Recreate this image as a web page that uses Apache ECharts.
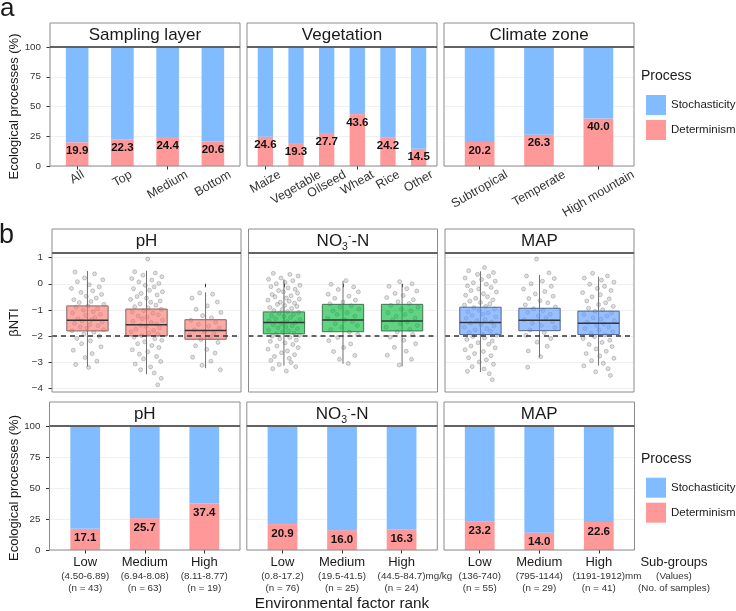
<!DOCTYPE html>
<html>
<head>
<meta charset="utf-8">
<script src="https://cdn.jsdelivr.net/npm/echarts@6/dist/echarts.min.js"></script>
<style>
    html, body {margin: 0; padding: 0; background: #fff;}
    #main {width: 736px; height: 611px;}
</style>
</head>
<body>
<div id="main"></div>
<script>
var FONT = '"Liberation Sans", Arial, sans-serif';
var STO_COLOR = '#80bcff';
var DET_COLOR = '#ff9999';

// ---------- data: panel a ----------
var samplingCats = ['All', 'Top', 'Medium', 'Bottom'];
var samplingDet = [19.9, 22.3, 24.4, 20.6];
var samplingSto = [80.1, 77.7, 75.6, 79.4];

var vegCats = ['Maize', 'Vegetable', 'Oilseed', 'Wheat', 'Rice', 'Other'];
var vegDet = [24.6, 19.3, 27.7, 43.6, 24.2, 14.5];
var vegSto = [75.4, 80.7, 72.3, 56.4, 75.8, 85.5];

var climateCats = ['Subtropical', 'Temperate', 'High mountain'];
var climateDet = [20.2, 26.3, 40.0];
var climateSto = [79.8, 73.7, 60.0];

// ---------- data: panel b ----------
var rankNames = ['Low', 'Medium', 'High'];

var phRanges = ['4.50-6.89', '6.94-8.08', '8.11-8.77'];
var phN = [43, 63, 19];
var phDet = [17.1, 25.7, 37.4];
var phSto = [82.9, 74.3, 62.6];

var no3Ranges = ['0.8-17.2', '19.5-41.5', '44.5-84.7'];
var no3N = [76, 25, 24];
var no3Det = [20.9, 16.0, 16.3];
var no3Sto = [79.1, 84.0, 83.7];

var mapRanges = ['136-740', '795-1144', '1191-1912'];
var mapN = [55, 29, 41];
var mapDet = [23.2, 14.0, 22.6];
var mapSto = [76.8, 86.0, 77.4];

// boxplot stats: [min, q1, median, q3, max]
var phBox = [[-3.18, -1.81, -1.40, -0.85, 0.49], [-3.47, -2.00, -1.57, -0.97, 0.50], [-3.24, -2.13, -1.79, -1.38, -0.33]];
var no3Box = [[-3.14, -1.92, -1.49, -1.08, 0.17], [-3.07, -1.84, -1.39, -0.79, 0.11], [-3.17, -1.81, -1.43, -0.79, -0.01]];
var mapBox = [[-3.39, -1.95, -1.49, -0.90, 0.48], [-2.82, -1.80, -1.40, -0.94, 0.34], [-3.14, -1.95, -1.52, -1.05, 0.27]];
var bntiThreshold = -2;

// jittered points: [offset from rank centre, betaNTI]
var phLowPts = [[-0.21,0.45],[0.12,0.38],[-0.05,0.22],[0.26,0.15],[-0.17,0.08],[0.03,-0.04],[0.2,-0.12],[-0.27,-0.18],[0.09,-0.27],[-0.11,-0.33],[0.24,-0.41],[-0.02,-0.48],[0.15,-0.55],[-0.23,-0.61],[0.06,-0.68],[-0.14,-0.72],[0.28,-0.79],[0.01,-0.85],[-0.19,-0.9],[0.17,-0.96],[-0.07,-1.01],[0.1,-1.07],[-0.25,-1.12],[0.22,-1.18],[-0.03,-1.22],[0.13,-1.29],[-0.16,-1.34],[0.07,-1.38],[-0.09,-1.43],[0.25,-1.47],[-0.22,-1.52],[0.04,-1.57],[0.18,-1.61],[-0.12,-1.66],[-0.01,-1.71],[0.27,-1.76],[-0.26,-1.8],[0.11,-1.86],[-0.06,-1.93],[0.2,-2.01],[-0.18,-2.1],[0.05,-2.19],[-0.1,-2.3],[0.23,-2.42],[-0.24,-2.55],[0.08,-2.68],[-0.04,-2.83],[0.16,-2.97],[-0.2,-3.1],[0.02,-3.21]];
var phMedPts = [[0.02,0.95],[-0.2,0.46],[0.15,0.41],[-0.06,0.33],[0.26,0.27],[-0.25,0.2],[0.09,0.14],[-0.13,0.07],[0.21,0.01],[-0.02,-0.06],[0.13,-0.12],[-0.22,-0.19],[0.05,-0.25],[0.27,-0.31],[-0.09,-0.37],[0.18,-0.43],[-0.16,-0.49],[0.0,-0.55],[-0.27,-0.6],[0.23,-0.66],[0.07,-0.71],[-0.11,-0.77],[0.16,-0.82],[-0.2,-0.88],[0.03,-0.93],[0.25,-0.98],[-0.05,-1.03],[-0.24,-1.08],[0.11,-1.13],[0.2,-1.19],[-0.14,-1.24],[0.01,-1.29],[-0.07,-1.34],[0.27,-1.39],[-0.23,-1.44],[0.08,-1.49],[0.17,-1.54],[-0.1,-1.59],[-0.01,-1.64],[0.22,-1.69],[-0.18,-1.74],[0.12,-1.79],[-0.26,-1.84],[0.04,-1.89],[0.19,-1.94],[-0.08,-1.99],[-0.21,-2.05],[0.14,-2.11],[0.26,-2.17],[-0.03,-2.23],[-0.15,-2.3],[0.09,-2.37],[0.21,-2.45],[-0.24,-2.53],[0.02,-2.61],[-0.12,-2.7],[0.17,-2.79],[-0.05,-2.88],[0.24,-2.98],[-0.19,-3.08],[0.07,-3.19],[-0.1,-3.3],[0.13,-3.42],[0.25,-3.63],[0.19,-3.88]];
var phHighPts = [[-0.1,-0.35],[0.12,-0.4],[-0.23,-0.55],[0.2,-0.7],[0.03,-0.85],[-0.16,-0.98],[0.26,-1.1],[-0.05,-1.22],[0.1,-1.31],[-0.25,-1.4],[0.17,-1.48],[-0.12,-1.56],[0.05,-1.63],[0.23,-1.7],[-0.19,-1.77],[-0.02,-1.84],[0.14,-1.91],[-0.27,-1.98],[0.08,-2.05],[-0.08,-2.14],[0.21,-2.25],[-0.17,-2.38],[0.02,-2.52],[0.16,-2.66],[-0.22,-2.82],[0.09,-2.97],[-0.06,-3.13],[0.25,-3.3]];
var no3LowPts = [[-0.18,0.4],[0.1,0.36],[0.24,0.3],[-0.05,0.22],[-0.26,0.17],[0.15,0.12],[0.02,0.05],[-0.13,0.0],[0.27,-0.06],[-0.22,-0.11],[0.07,-0.16],[0.19,-0.21],[-0.09,-0.26],[-0.01,-0.31],[0.23,-0.36],[-0.2,-0.41],[0.12,-0.46],[-0.15,-0.5],[0.04,-0.55],[0.26,-0.59],[-0.27,-0.63],[0.09,-0.67],[-0.06,-0.71],[0.18,-0.75],[-0.11,-0.79],[0.01,-0.83],[0.22,-0.87],[-0.24,-0.91],[0.13,-0.95],[-0.03,-0.99],[-0.17,-1.03],[0.06,-1.07],[0.25,-1.1],[-0.08,-1.14],[0.16,-1.18],[-0.21,-1.22],[0.0,-1.26],[0.11,-1.3],[-0.14,-1.34],[0.27,-1.37],[-0.25,-1.41],[0.05,-1.45],[0.19,-1.49],[-0.04,-1.53],[-0.18,-1.57],[0.14,-1.61],[0.03,-1.65],[-0.1,-1.69],[0.23,-1.73],[-0.26,-1.77],[0.08,-1.81],[-0.02,-1.85],[0.17,-1.89],[-0.13,-1.93],[0.26,-1.97],[-0.2,-2.01],[0.1,-2.06],[-0.07,-2.11],[0.21,-2.16],[-0.23,-2.21],[0.02,-2.27],[0.15,-2.33],[-0.12,-2.39],[0.24,-2.45],[-0.27,-2.51],[0.06,-2.58],[-0.04,-2.65],[0.18,-2.72],[-0.16,-2.79],[0.09,-2.86],[-0.22,-2.94],[0.12,-3.02],[-0.08,-3.1],[0.2,-3.18],[-0.19,-3.26],[0.04,-3.35]];
var no3MedPts = [[0.05,0.12],[-0.2,-0.02],[0.18,-0.12],[-0.08,-0.22],[0.26,-0.31],[-0.25,-0.4],[0.1,-0.48],[-0.14,-0.56],[0.21,-0.63],[0.0,-0.7],[-0.22,-0.77],[0.14,-0.84],[-0.05,-0.9],[0.27,-0.97],[-0.17,-1.04],[0.07,-1.11],[-0.1,-1.18],[0.2,-1.25],[-0.26,-1.32],[0.03,-1.39],[0.16,-1.46],[-0.13,-1.53],[0.24,-1.6],[-0.02,-1.68],[-0.21,-1.76],[0.11,-1.85],[0.25,-1.95],[-0.09,-2.06],[-0.24,-2.18],[0.13,-2.31],[0.01,-2.45],[-0.16,-2.6],[0.2,-2.75],[-0.06,-2.9],[0.09,-3.06]];
var no3HighPts = [[-0.04,0.08],[0.17,0.0],[-0.22,-0.1],[0.08,-0.19],[0.25,-0.28],[-0.12,-0.37],[0.02,-0.45],[-0.26,-0.53],[0.19,-0.61],[-0.07,-0.69],[0.12,-0.76],[-0.19,-0.83],[0.27,-0.9],[-0.01,-0.97],[0.15,-1.04],[-0.24,-1.11],[0.05,-1.18],[-0.1,-1.25],[0.22,-1.32],[-0.16,-1.39],[0.09,-1.46],[-0.03,-1.53],[0.26,-1.6],[-0.27,-1.67],[0.13,-1.75],[-0.08,-1.84],[0.18,-1.94],[-0.2,-2.05],[0.03,-2.17],[0.23,-2.3],[-0.13,-2.44],[0.07,-2.59],[-0.25,-2.74],[0.16,-2.9],[-0.05,-3.12]];
var mapLowPts = [[0.07,0.62],[-0.2,0.5],[0.22,0.43],[-0.05,0.36],[0.14,0.29],[-0.26,0.22],[0.02,0.16],[0.25,0.1],[-0.12,0.04],[0.1,-0.02],[-0.22,-0.08],[0.18,-0.14],[-0.03,-0.2],[-0.16,-0.26],[0.27,-0.32],[0.05,-0.38],[-0.25,-0.44],[0.12,-0.5],[-0.08,-0.56],[0.21,-0.62],[-0.18,-0.67],[0.0,-0.72],[0.16,-0.77],[-0.27,-0.82],[0.09,-0.87],[-0.11,-0.92],[0.24,-0.97],[-0.02,-1.02],[-0.21,-1.07],[0.13,-1.12],[0.04,-1.17],[-0.14,-1.22],[0.26,-1.27],[-0.24,-1.32],[0.08,-1.37],[-0.06,-1.42],[0.19,-1.47],[-0.17,-1.52],[0.01,-1.57],[0.23,-1.62],[-0.27,-1.67],[0.11,-1.72],[-0.09,-1.77],[0.17,-1.82],[-0.19,-1.87],[0.03,-1.92],[0.27,-1.97],[-0.13,-2.02],[0.07,-2.08],[-0.23,-2.14],[0.2,-2.2],[-0.04,-2.26],[0.14,-2.32],[-0.16,-2.39],[0.25,-2.46],[-0.26,-2.53],[0.05,-2.6],[-0.1,-2.68],[0.18,-2.76],[-0.2,-2.84],[0.1,-2.92],[-0.02,-3.0],[0.22,-3.09],[-0.14,-3.18],[0.06,-3.27],[-0.22,-3.36],[0.15,-3.45],[0.2,-3.68]];
var mapMedPts = [[-0.05,0.95],[0.16,0.42],[-0.22,0.3],[0.25,0.2],[0.05,0.1],[-0.14,0.0],[0.2,-0.1],[-0.27,-0.2],[0.09,-0.3],[-0.07,-0.39],[0.23,-0.48],[-0.18,-0.57],[0.01,-0.65],[0.14,-0.73],[-0.24,-0.81],[0.27,-0.89],[-0.1,-0.96],[0.06,-1.03],[-0.2,-1.1],[0.18,-1.17],[-0.02,-1.24],[0.11,-1.31],[-0.26,-1.38],[0.22,-1.45],[-0.12,-1.52],[0.03,-1.6],[0.26,-1.68],[-0.16,-1.77],[0.08,-1.87],[-0.23,-1.98],[0.19,-2.1],[-0.04,-2.24],[0.13,-2.4],[-0.19,-2.58],[0.02,-2.8],[-0.2,-3.2]];
var mapHighPts = [[-0.1,0.4],[0.15,0.3],[-0.24,0.22],[0.05,0.14],[0.26,0.06],[-0.15,-0.02],[0.1,-0.1],[-0.02,-0.18],[0.21,-0.26],[-0.27,-0.34],[0.03,-0.42],[-0.11,-0.5],[0.18,-0.58],[-0.2,-0.66],[0.12,-0.73],[0.0,-0.8],[0.25,-0.87],[-0.17,-0.94],[0.07,-1.0],[-0.06,-1.06],[0.22,-1.12],[-0.25,-1.18],[0.14,-1.24],[-0.09,-1.3],[0.04,-1.36],[0.27,-1.42],[-0.19,-1.48],[0.09,-1.54],[-0.03,-1.6],[0.17,-1.66],[-0.23,-1.72],[0.01,-1.78],[0.24,-1.84],[-0.13,-1.9],[0.11,-1.96],[-0.07,-2.03],[-0.26,-2.1],[0.19,-2.17],[0.06,-2.25],[-0.16,-2.33],[0.23,-2.41],[-0.04,-2.5],[0.13,-2.59],[-0.21,-2.68],[0.02,-2.77],[0.26,-2.86],[-0.12,-2.95],[0.08,-3.05],[-0.25,-3.15],[0.16,-3.26],[-0.05,-3.38],[0.2,-3.52]];

// ---------- layout (pixels) ----------
var rowA = {strip: 23, top: 47, bottom: 166, xs: [[50, 190], [247, 190], [444, 190]]};
var rowB = {strip: 229, top: 253, bottom: 392, yTop: 257.7, yBottom: 388, xs: [[52, 189], [248.5, 189], [445, 189]]};
var rowC = {strip: 402, top: 426, bottom: 550, xs: [[49.5, 190.5], [246.8, 190.5], [444, 190.5]]};

var grids = [], xAxes = [], yAxes = [], series = [], graphics = [], rotatedJobs = [];

function minusFmt(v) {
    return v < 0 ? '\u2212' + Math.abs(v) : String(v);
}

// full panel grid (y axis, grid lines, value x for jitter) + inset grid (categories)
function panelBase(L, W, yTop, yBottom, n, yMin, yMax, yInt, showY, fmt) {
    var B = W / (n + 0.2);   // category band, 0.6 band padding on each side
    var gi = grids.length;
    grids.push({left: L, top: yTop, width: W, height: yBottom - yTop, outerBoundsMode: 'none'});
    xAxes.push({type: 'value', gridIndex: gi, min: 0.4, max: n + 0.6, show: false});
    yAxes.push({
        type: 'value', gridIndex: gi, min: yMin, max: yMax, interval: yInt,
        axisLine: {show: false},
        axisTick: {show: showY, length: 3.5, lineStyle: {color: '#333'}},
        axisLabel: {show: showY, margin: 9, fontSize: 9.8, color: '#333', fontFamily: FONT, formatter: fmt},
        splitLine: {show: true, lineStyle: {color: '#ececec', width: 0.8}}
    });
    grids.push({left: L + 0.1 * B, top: yTop, width: n * B, height: yBottom - yTop, outerBoundsMode: 'none'});
    return {p: gi, b: gi + 1, B: B};
}

function frame(L, W, stripTop, top, bottom, title) {
    graphics.push({type: 'rect', z: 50, shape: {x: L, y: stripTop, width: W, height: top - stripTop},
        style: {fill: '#fff', stroke: '#8c8c8c', lineWidth: 1}});
    graphics.push({type: 'rect', z: 50, shape: {x: L, y: top, width: W, height: bottom - top},
        style: {fill: 'transparent', stroke: '#8c8c8c', lineWidth: 1}});
    graphics.push({type: 'line', z: 51, shape: {x1: L, y1: top, x2: L + W, y2: top},
        style: {stroke: '#4d4d4d', lineWidth: 1.3}});
    graphics.push({type: 'text', z: 52, x: L + W / 2, y: (stripTop + top) / 2 + 0.5, style: title});
}

function plainTitle(t) {
    return {text: t, font: '17px ' + FONT, fill: '#1a1a1a', align: 'center', verticalAlign: 'middle',
        textAlign: 'center', textVerticalAlign: 'middle'};
}
var no3Title = {
    text: '{a|NO}{b|3}{c|-}{a|-N}', align: 'center', verticalAlign: 'middle',
    textAlign: 'center', textVerticalAlign: 'middle',
    rich: {
        a: {fontSize: 17, fontFamily: FONT, fill: '#1a1a1a', lineHeight: 22, verticalAlign: 'middle'},
        b: {fontSize: 10.5, fontFamily: FONT, fill: '#1a1a1a', lineHeight: 12, verticalAlign: 'bottom'},
        c: {fontSize: 10.5, fontFamily: FONT, fill: '#1a1a1a', lineHeight: 12, verticalAlign: 'top'}
    }
};

function addBars(idx, det, sto, B, dist) {
    series.push({
        type: 'bar', name: 'Determinism', xAxisIndex: idx, yAxisIndex: idx, stack: 's' + idx,
        data: det, barWidth: 0.5 * B, itemStyle: {color: DET_COLOR},
        label: {
            show: true, position: 'insideTop', distance: dist, color: '#111', fontFamily: FONT,
            fontSize: 11.5, fontWeight: 'bold', lineHeight: 13,
            formatter: function (p) { return p.value.toFixed(1); }
        }
    });
    series.push({
        type: 'bar', name: 'Stochasticity', xAxisIndex: idx, yAxisIndex: idx, stack: 's' + idx,
        data: sto, barWidth: 0.5 * B, itemStyle: {color: STO_COLOR}
    });
}

// ---------- panel a ----------
var aPanels = [
    {title: 'Sampling layer', cats: samplingCats, det: samplingDet, sto: samplingSto},
    {title: 'Vegetation', cats: vegCats, det: vegDet, sto: vegSto},
    {title: 'Climate zone', cats: climateCats, det: climateDet, sto: climateSto}
];
aPanels.forEach(function (pn, col) {
    var L = rowA.xs[col][0], W = rowA.xs[col][1];
    var base = panelBase(L, W, rowA.top, rowA.bottom, pn.cats.length, 0, 100, 25, col === 0);
    xAxes.push({type: 'category', gridIndex: base.b, data: pn.cats,
        axisLine: {show: false}, axisLabel: {show: false},
        axisTick: {show: true, alignWithLabel: true, length: 3.5, lineStyle: {color: '#333'}}});
    yAxes.push({type: 'value', gridIndex: base.b, min: 0, max: 100, show: false});
    addBars(base.b, pn.det, pn.sto, base.B, 2);
    rotatedJobs.push({axis: base.b, cats: pn.cats});
    frame(L, W, rowA.strip, rowA.top, rowA.bottom, plainTitle(pn.title));
});

// ---------- panel b, boxplots ----------
var boxFill = ['rgba(248,118,109,0.62)', 'rgba(0,186,56,0.62)', 'rgba(97,156,255,0.65)'];
var boxEdge = ['#8a6461', '#3f7350', '#4f6690'];

function renderBox(params, api) {
    var c = api.value(0);
    var pMin = api.coord([c, api.value(1)]);
    var pQ1 = api.coord([c, api.value(2)]);
    var pMed = api.coord([c, api.value(3)]);
    var pQ3 = api.coord([c, api.value(4)]);
    var pMax = api.coord([c, api.value(5)]);
    var w = api.size([1, 0])[0] * 0.7;
    var k = params.seriesName;
    return {
        type: 'group', children: [
            {type: 'line', shape: {x1: pMin[0], y1: pMin[1], x2: pMax[0], y2: pMax[1]},
                style: {stroke: '#6e6e6e', lineWidth: 1}},
            {type: 'rect', shape: {x: pQ3[0] - w / 2, y: pQ3[1], width: w, height: pQ1[1] - pQ3[1]},
                style: {fill: boxFill[k], stroke: boxEdge[k], lineWidth: 1}},
            {type: 'line', shape: {x1: pMed[0] - w / 2, y1: pMed[1], x2: pMed[0] + w / 2, y2: pMed[1]},
                style: {stroke: '#333', lineWidth: 1.5}}
        ]
    };
}

var bPanels = [
    {title: plainTitle('pH'), box: phBox, pts: [phLowPts, phMedPts, phHighPts]},
    {title: no3Title, box: no3Box, pts: [no3LowPts, no3MedPts, no3HighPts]},
    {title: plainTitle('MAP'), box: mapBox, pts: [mapLowPts, mapMedPts, mapHighPts]}
];
bPanels.forEach(function (pn, col) {
    var L = rowB.xs[col][0], W = rowB.xs[col][1];
    var base = panelBase(L, W, rowB.yTop, rowB.yBottom, 3, -4, 1, 1, col === 0, minusFmt);
    xAxes.push({type: 'category', gridIndex: base.b, data: rankNames, offset: rowB.bottom - rowB.yBottom,
        axisLine: {show: false}, axisLabel: {show: false},
        axisTick: {show: true, alignWithLabel: true, length: 3.5, lineStyle: {color: '#333'}}});
    yAxes.push({type: 'value', gridIndex: base.b, min: -4, max: 1, show: false});

    var pts = [];
    pn.pts.forEach(function (grp, r) {
        grp.forEach(function (q) { pts.push([r + 1 + q[0], q[1]]); });
    });
    series.push({
        type: 'scatter', name: 'points' + col, xAxisIndex: base.p, yAxisIndex: base.p, z: 2,
        data: pts, symbol: 'circle', symbolSize: 4, silent: true,
        itemStyle: {color: 'rgba(140,140,140,0.35)', borderColor: 'rgba(105,105,105,0.6)', borderWidth: 0.7}
    });
    series.push({
        type: 'custom', name: String(col), xAxisIndex: base.b, yAxisIndex: base.b, z: 3,
        renderItem: renderBox, encode: {x: 0, y: [1, 2, 3, 4, 5]},
        data: pn.box.map(function (b, i) { return [i].concat(b); })
    });
    series.push({
        type: 'line', name: 'threshold' + col, xAxisIndex: base.p, yAxisIndex: base.p, z: 4, data: [],
        markLine: {symbol: 'none', silent: true, label: {show: false},
            lineStyle: {color: '#333', type: [5, 4], width: 1.6},
            data: [{yAxis: bntiThreshold}]}
    });
    frame(L, W, rowB.strip, rowB.top, rowB.bottom, pn.title);
});

// ---------- panel b, process bars ----------
function rankLabels(ranges, ns, unit) {
    return rankNames.map(function (r, i) {
        var u = (i === ranges.length - 1 && unit) ? unit : '';
        var mid = u ? '{h|' + u + '}{b|(' + ranges[i] + ')' + u + '}' : '{b|(' + ranges[i] + ')}';
        return '{a|' + r + '}\n' + mid + '\n{b|(n = ' + ns[i] + ')}';
    });
}
var labelRich = {
    a: {fontSize: 13, lineHeight: 15, color: '#1a1a1a', fontFamily: FONT},
    b: {fontSize: 9.8, lineHeight: 12, color: '#333', fontFamily: FONT},
    h: {fontSize: 9.8, lineHeight: 12, color: 'rgba(0,0,0,0)', fontFamily: FONT}
};
var cPanels = [
    {title: plainTitle('pH'), det: phDet, sto: phSto, labels: rankLabels(phRanges, phN, '')},
    {title: no3Title, det: no3Det, sto: no3Sto, labels: rankLabels(no3Ranges, no3N, 'mg/kg')},
    {title: plainTitle('MAP'), det: mapDet, sto: mapSto, labels: rankLabels(mapRanges, mapN, 'mm')}
];
cPanels.forEach(function (pn, col) {
    var L = rowC.xs[col][0], W = rowC.xs[col][1];
    var base = panelBase(L, W, rowC.top, rowC.bottom, 3, 0, 100, 25, col === 0);
    xAxes.push({type: 'category', gridIndex: base.b, data: rankNames,
        axisLine: {show: false},
        axisTick: {show: true, alignWithLabel: true, length: 3.5, lineStyle: {color: '#333'}},
        axisLabel: {show: true, margin: 5, interval: 0, rich: labelRich,
            formatter: function (v, i) { return pn.labels[i]; }}});
    yAxes.push({type: 'value', gridIndex: base.b, min: 0, max: 100, show: false});
    addBars(base.b, pn.det, pn.sto, base.B, 3);
    frame(L, W, rowC.strip, rowC.top, rowC.bottom, pn.title);
});

// ---------- free text ----------
function txt(x, y, s, size, opts) {
    opts = opts || {};
    graphics.push({type: 'text', z: 60, x: x, y: y, rotation: opts.rot || 0,
        style: {text: s, font: size + 'px ' + FONT, fill: '#1a1a1a',
            align: opts.align || 'center', verticalAlign: 'middle',
            textAlign: opts.align || 'center', textVerticalAlign: 'middle'}});
}
txt(0, 9.3, 'a', 26, {align: 'left'});
txt(-1, 235.6, 'b', 27, {align: 'left'});
txt(14, (rowA.top + rowA.bottom) / 2, 'Ecological processes (%)', 13, {rot: Math.PI / 2});
txt(14, (rowC.top + rowC.bottom) / 2, 'Ecological processes (%)', 13, {rot: Math.PI / 2});
txt(14, (rowB.top + rowB.bottom) / 2, '\u03b2NTI', 13, {rot: Math.PI / 2});
txt(342, 604, 'Environmental factor rank', 15.3);
txt(641, 75.7, 'Process', 14, {align: 'left'});
txt(641, 459, 'Process', 14, {align: 'left'});
graphics.push({type: 'text', z: 60, x: 674, y: rowC.bottom + 5, style: {
    text: '{a|Sub-groups}\n{b|(Values)}\n{b|(No. of samples)}', align: 'center', verticalAlign: 'top',
    textAlign: 'center', textVerticalAlign: 'top',
    rich: {
        a: {fontSize: 13, lineHeight: 15, fill: '#1a1a1a', fontFamily: FONT},
        b: {fontSize: 9.8, lineHeight: 12, fill: '#333', fontFamily: FONT}
    }}});

var legendBase = {
    orient: 'vertical', left: 641, itemWidth: 20, itemHeight: 20, itemGap: 5, icon: 'rect',
    selectedMode: false, data: ['Stochasticity', 'Determinism'],
    textStyle: {fontSize: 11.5, color: '#1a1a1a', fontFamily: FONT}
};

var chart = echarts.init(document.getElementById('main'), null, {renderer: 'canvas'});
chart.setOption({
    animation: false,
    backgroundColor: '#fff',
    textStyle: {fontFamily: FONT},
    grid: grids,
    xAxis: xAxes,
    yAxis: yAxes,
    legend: [
        Object.assign({}, legendBase, {top: 90}),
        Object.assign({}, legendBase, {top: 472.7})
    ],
    series: series
});

// rotated category labels of panel a: bounding box centred on tick, tops aligned
var ctx = document.createElement('canvas').getContext('2d');
var rotSize = 12.5;
var rotFont = rotSize + 'px ' + FONT;
ctx.font = rotFont;
rotatedJobs.forEach(function (job) {
    job.cats.forEach(function (c) {
        var x = chart.convertToPixel({xAxisIndex: job.axis}, c);
        var w = ctx.measureText(c).width;
        var H = w * 0.5 + rotSize * 0.866;
        graphics.push({type: 'text', z: 60, x: x, y: rowA.bottom + 2.3 + H / 2, rotation: Math.PI / 6,
            style: {text: c, font: rotFont, fill: '#333', align: 'center', verticalAlign: 'middle',
                textAlign: 'center', textVerticalAlign: 'middle'}});
    });
});
chart.setOption({graphic: {elements: graphics}});
</script>
</body>
</html>
